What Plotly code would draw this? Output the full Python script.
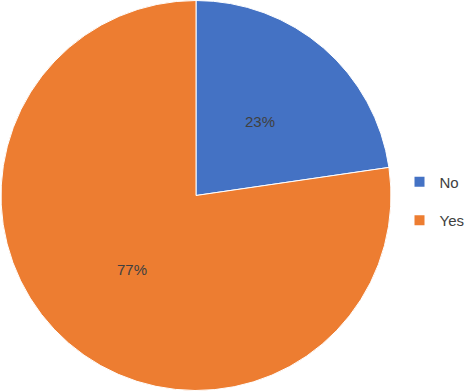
import math
import plotly.graph_objects as go

labels = ["No", "Yes"]
values = [22.7, 77.3]
colors = ["#4472C4", "#ED7D31"]

W, H = 470, 391
dom_x = [1 / W, 391 / W]
dom_y = [0, 1]
FONT = "Liberation Sans, Arial"

fig = go.Figure()
fig.add_trace(go.Pie(
    labels=labels,
    values=values,
    marker=dict(colors=colors, line=dict(color="white", width=1)),
    sort=False,
    direction="clockwise",
    rotation=0,
    textinfo="none",
    domain=dict(x=dom_x, y=dom_y),
    hoverinfo="label+percent",
    showlegend=False,
))

# percentage labels placed at the middle of each slice
total = sum(values)
cx = (dom_x[0] + dom_x[1]) / 2 * W
cy = (1 - (dom_y[0] + dom_y[1]) / 2) * H
R = min((dom_x[1] - dom_x[0]) * W, (dom_y[1] - dom_y[0]) * H) / 2
start = 0.0
for v in values:
    mid = (start + v / 2) / total * 2 * math.pi
    start += v
    r = 0.5 * R
    px = cx + r * math.sin(mid)
    py = cy - r * math.cos(mid)
    fig.add_annotation(
        x=px / W, y=1 - py / H, xref="paper", yref="paper",
        xanchor="center", yanchor="middle",
        text=f"{round(v / total * 100)}%", showarrow=False,
        font=dict(family=FONT, size=15, color="#404040"),
    )

# legend entries (one group each so they can be spaced like the original)
for lab, col in zip(labels, colors):
    fig.add_trace(go.Scatter(
        x=[None], y=[None], mode="markers", name=lab,
        marker=dict(symbol="square", size=10, color=col),
        legendgroup=lab, showlegend=True, hoverinfo="skip",
    ))

fig.update_layout(
    width=W, height=H,
    margin=dict(l=0, r=0, t=0, b=0, autoexpand=False),
    paper_bgcolor="white",
    plot_bgcolor="white",
    xaxis=dict(visible=False),
    yaxis=dict(visible=False),
    showlegend=True,
    legend=dict(
        x=0.85, y=0.486, xanchor="left", yanchor="middle",
        font=dict(family=FONT, size=15, color="#404040"),
        itemwidth=30,
        tracegroupgap=16,
        bgcolor="rgba(0,0,0,0)",
    ),
)

fig.write_html(
    "out.html",
    config={"displayModeBar": False},
    post_script="document.body.style.margin='0';document.documentElement.style.overflow='hidden';",
)
